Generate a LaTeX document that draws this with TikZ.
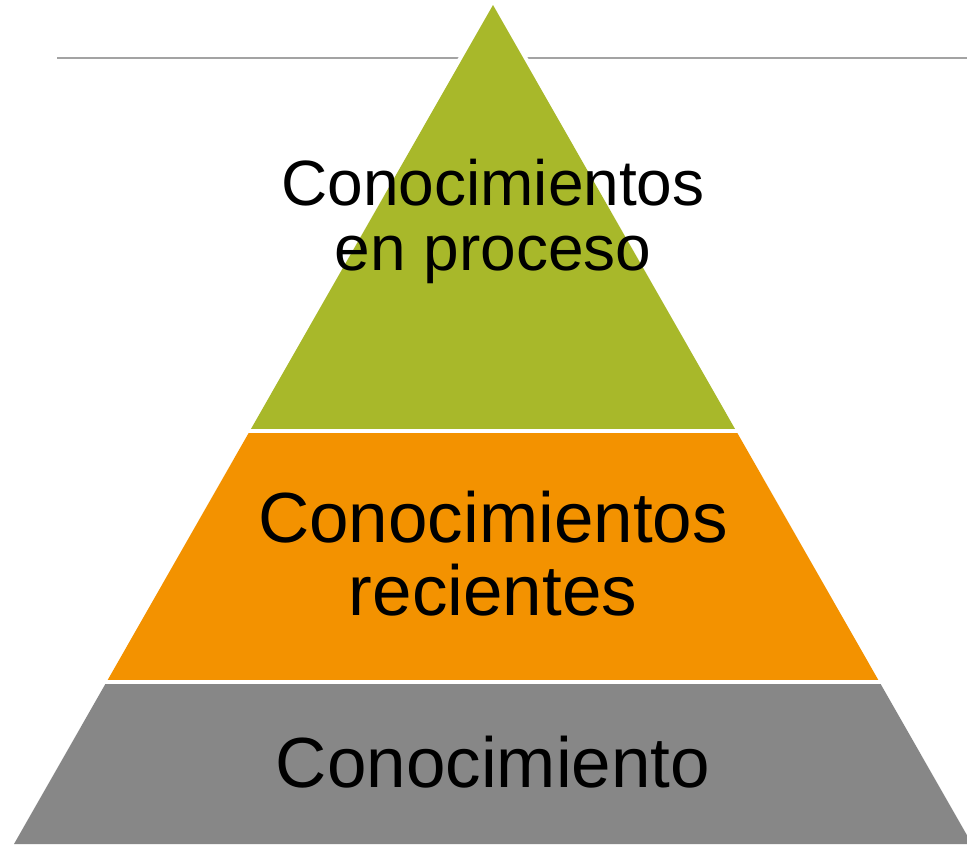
\documentclass[tikz,border=0pt]{standalone}
\usepackage{fontspec}
\setmainfont{Liberation Sans}
\definecolor{pgreen}{HTML}{A8B82A}
\definecolor{porange}{HTML}{F39200}
\definecolor{pgray}{HTML}{878787}
\definecolor{rulegray}{HTML}{A3A3A3}
\begin{document}
\begin{tikzpicture}[x=1pt,y=-1pt,
  lbltop/.style={anchor=base,inner sep=0pt,font=\fontsize{64}{66}\selectfont},
  lblmid/.style={anchor=base,inner sep=0pt,font=\fontsize{71}{73}\selectfont},
  sep/.style={draw=white,line width=4pt}]
\useasboundingbox (0,0) rectangle (967,846);
\clip (0,0) rectangle (967,846);
% rule
\coordinate (r1) at (57,58);
\coordinate (r2) at (967,58);
\draw[rulegray,line width=2pt] (r1) -- (r2);
% outer white halo
\coordinate (A) at (493,5);
\coordinate (BL) at (14,844);
\coordinate (BR) at (972,844);
\draw[white,line width=8pt,line join=miter] (A) -- (BL) -- (BR) -- cycle;
% layers
\coordinate (G1) at (249.8,431);
\coordinate (G2) at (736.2,431);
\coordinate (O1) at (106.8,681.5);
\coordinate (O2) at (879.2,681.5);
\fill[pgreen] (A) -- (G1) -- (G2) -- cycle;
\fill[porange] (G1) -- (O1) -- (O2) -- (G2) -- cycle;
\fill[pgray] (O1) -- (BL) -- (BR) -- (O2) -- cycle;
\draw[sep] ([xshift=-5pt]G1) -- ([xshift=5pt]G2);
\draw[sep] ([xshift=-5pt]O1) -- ([xshift=5pt]O2);
% labels
\node[lbltop] (t1) at (493,205) {Conocimientos};
\node[lbltop] (t2) at (493,270) {en proceso};
\node[lblmid] (m1) at (493,542) {Conocimientos};
\node[lblmid] (m2) at (493,615) {recientes};
\node[lblmid] (b1) at (493,787) {Conocimiento};
\end{tikzpicture}
\end{document}
